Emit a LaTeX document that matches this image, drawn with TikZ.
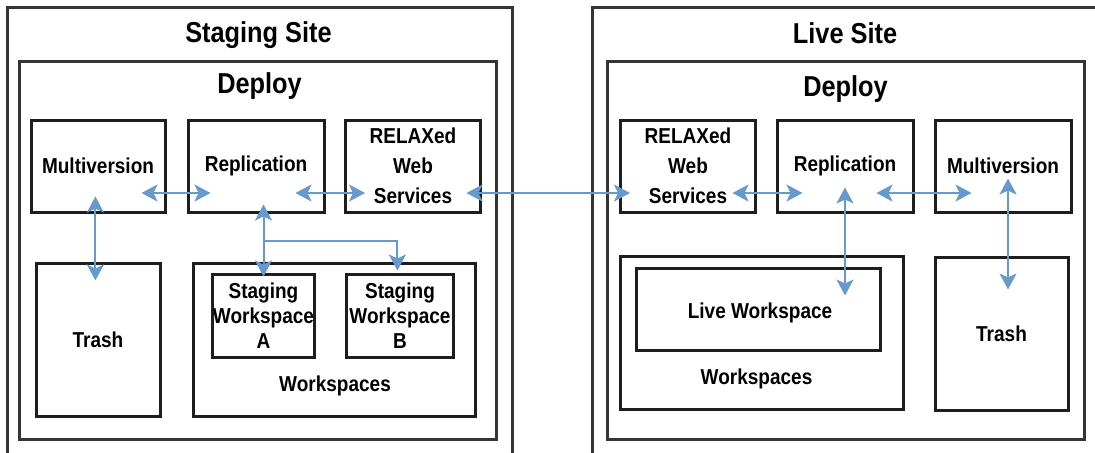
\documentclass[tikz,border=0pt]{standalone}
\usepackage{fontspec}
\setmainfont{Liberation Sans}[FakeStretch=0.88]
\usepackage{xcolor}
\definecolor{linkblue}{RGB}{102,153,204}
\definecolor{boxline}{RGB}{30,30,30}
\usetikzlibrary{positioning,arrows.meta,calc}

\tikzset{
  sitebox/.style={draw=boxline!90,line width=1.5pt,inner sep=0pt},
  compbox/.style={draw=boxline,line width=1.5pt,inner sep=0pt,align=center,
    font=\fontsize{10.8}{15}\selectfont\bfseries},
  titletext/.style={inner sep=0pt,font=\fontsize{14.4}{16}\selectfont\bfseries},
  labeltext/.style={inner sep=0pt,font=\fontsize{10.8}{13}\selectfont\bfseries},
  link/.style={draw=linkblue,line width=1pt,
    {Stealth[length=8pt,width=8.5pt,inset=2pt]}-{Stealth[length=8pt,width=8.5pt,inset=2pt]}},
  linkend/.style={draw=linkblue,line width=1pt,-{Stealth[length=8pt,width=8.5pt,inset=2pt]}}
}

\begin{document}
\begin{tikzpicture}[x=0.5pt,y=-0.5pt]
  \useasboundingbox (0,0) rectangle (1095,452);
  \clip (0,0) rectangle (1095,452);
  % Sitios y despliegues
  \node[sitebox,minimum width=252.5pt,minimum height=224pt] (stg) at (259.5,231) {};
  \node[sitebox,minimum width=254pt,minimum height=224pt] (live) at (846,231) {};
  \node[titletext] (stgtitle) at (258.5,35) {Staging Site};
  \node[titletext] (livetitle) at (845,33) {Live Site};
  \node[sitebox,minimum width=238.5pt,minimum height=189pt] (sdep) at (257.5,250) {};
  \node[sitebox,minimum width=238.5pt,minimum height=189pt] (ldep) at (845.5,250) {};
  \node[titletext] (sdeptitle) at (259.5,86) {Deploy};
  \node[titletext] (ldeptitle) at (845.5,89) {Deploy};
  % Componentes del staging
  \node[compbox,minimum width=67pt,minimum height=46pt] (smv) at (98,166) {Multiversion};
  \node[compbox,minimum width=68pt,minimum height=46pt] (srep) at (256,166) {Replication};
  \node[compbox,minimum width=67.5pt,minimum height=46pt] (srelax) at (413,166) {RELAXed\\Web\\Services};
  \node[compbox,minimum width=62pt,minimum height=76.5pt] (strash) at (98,339.5) {Trash};
  \node[compbox,minimum width=141pt,minimum height=76.5pt] (swsp) at (334,339.5) {};
  \node[compbox,minimum width=49.5pt,minimum height=41.5pt,font=\fontsize{10.8}{12.5}\selectfont\bfseries] (wsa) at (263.5,315.5) {Staging\\Workspace\\A};
  \node[compbox,minimum width=53.75pt,minimum height=41.5pt,font=\fontsize{10.8}{12.5}\selectfont\bfseries] (wsb) at (400,315.5) {Staging\\Workspace\\B};
  \node[labeltext] (swslabel) at (335,386) {Workspaces};
  % Componentes del live
  \node[compbox,minimum width=67.5pt,minimum height=46pt] (lrelax) at (688,166) {RELAXed\\Web\\Services};
  \node[compbox,minimum width=68pt,minimum height=46pt] (lrep) at (845,166) {Replication};
  \node[compbox,minimum width=68pt,minimum height=46pt] (lmv) at (1003,166) {Multiversion};
  \node[compbox,minimum width=141.5pt,minimum height=76.5pt] (lwsp) at (761.5,332.5) {};
  \node[compbox,minimum width=122pt,minimum height=41pt] (lws) at (758,309) {};
  \node[labeltext] (lwstext) at (760,313) {Live Workspace};
  \node[labeltext] (lwslabel) at (756.5,379) {Workspaces};
  \node[compbox,minimum width=66.5pt,minimum height=76.5pt] (ltrash) at (1001.5,333.5) {Trash};
  % Flechas horizontales
  \draw[link] ([shift={(-25,27)}]smv.east) -- ([shift={(24,27)}]srep.west);
  \draw[link] ([shift={(-30,27)}]srep.east) -- ([shift={(21,27)}]srelax.west);
  \draw[link] ([shift={(-15.5,27)}]srelax.east) -- ([shift={(11,27)}]lrelax.west);
  \draw[link] ([shift={(-24.5,27)}]lrelax.east) -- ([shift={(27,27)}]lrep.west);
  \draw[link] ([shift={(-38,27)}]lrep.east) -- ([shift={(38,27)}]lmv.west);
  % Flechas verticales
  \draw[link] ([shift={(-2.6,-17)}]smv.south) -- ([shift={(-2.6,19)}]strash.north);
  \draw[link] ($(wsa.north |- srep.south)+(0,-9)$) -- ([yshift=-2]wsa.north);
  \coordinate (fork) at ($(wsa.north)+(0,-32)$);
  \draw[linkend] (fork) -| ([shift={(-2.6,-2)}]wsb.north);
  \draw[link] ($(lrep.south)+(0,-26)$) -- ($(lrep.south |- lws.north)+(0,29)$);
  \draw[link] ($(lmv.south)+(5,-35)$) -- ($(ltrash.north)+(6.5,34)$);
\end{tikzpicture}
\end{document}
